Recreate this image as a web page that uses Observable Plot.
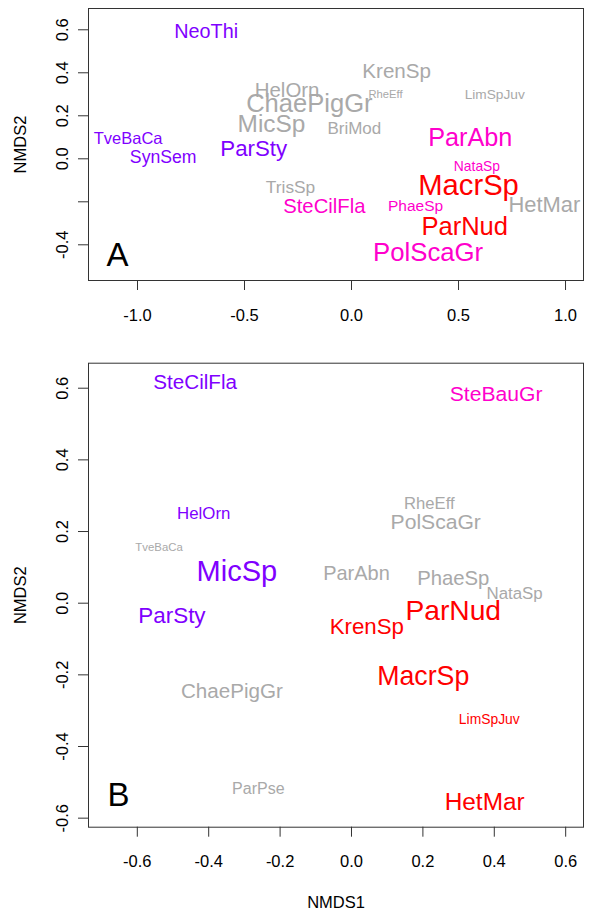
<!DOCTYPE html>
<html>
<head>
<meta charset="utf-8">
<script src="https://cdn.jsdelivr.net/npm/d3@7"></script>
<script src="https://cdn.jsdelivr.net/npm/@observablehq/plot@0.6"></script>
<style>
  html, body { margin: 0; padding: 0; background: #fff; }
  #chart svg { display: block; }
</style>
</head>
<body>
<div id="chart"></div>
<script>
// ---------- data ----------
const groups = ["cluster1", "cluster2", "cluster3", "cluster4"];
const groupColors = ["#8000ff", "#a9a9a9", "#ff00cc", "#ff0000"];

// Panel A
const aSpecies = ["NeoThi","TveBaCa","SynSem","ParSty","HelOrn","ChaePigGr","MicSp","TrisSp","SteCilFla","KrenSp","RheEff","LimSpJuv","BriMod","ParAbn","NataSp","MacrSp","HetMar","PhaeSp","ParNud","PolScaGr"];
const aNMDS1 = [-0.679,-1.044,-0.880,-0.457,-0.301,-0.197,-0.374,-0.285,-0.127,0.211,0.159,0.669,0.013,0.555,0.586,0.547,0.901,0.299,0.529,0.358];
const aNMDS2 = [0.591,0.095,0.009,0.048,0.318,0.255,0.160,-0.132,-0.223,0.408,0.301,0.298,0.139,0.097,-0.037,-0.124,-0.217,-0.220,-0.314,-0.438];
const aGroup = ["cluster1","cluster1","cluster1","cluster1","cluster2","cluster2","cluster2","cluster2","cluster3","cluster2","cluster2","cluster2","cluster2","cluster3","cluster3","cluster4","cluster2","cluster3","cluster4","cluster3"];
const aCex = [1.2,1.0,1.07,1.35,1.24,1.55,1.48,1.05,1.23,1.25,0.68,0.83,1.03,1.53,0.84,1.77,1.33,0.94,1.55,1.56];

// Panel B
const bSpecies = ["SteCilFla","HelOrn","TveBaCa","MicSp","ParSty","SteBauGr","RheEff","PolScaGr","ParAbn","PhaeSp","NataSp","ParNud","KrenSp","MacrSp","LimSpJuv","HetMar","ChaePigGr","ParPse"];
const bNMDS1 = [-0.438,-0.414,-0.539,-0.321,-0.503,0.405,0.218,0.236,0.014,0.285,0.457,0.285,0.043,0.201,0.386,0.373,-0.335,-0.261];
const bNMDS2 = [0.617,0.251,0.155,0.087,-0.034,0.582,0.279,0.227,0.082,0.068,0.027,-0.023,-0.067,-0.204,-0.324,-0.554,-0.245,-0.519];
const bGroup = ["cluster1","cluster1","cluster2","cluster1","cluster1","cluster3","cluster2","cluster2","cluster2","cluster2","cluster2","cluster4","cluster4","cluster4","cluster4","cluster4","cluster2","cluster2"];
const bCex = [1.25,1.02,0.69,1.76,1.36,1.28,1.01,1.28,1.21,1.23,1.02,1.71,1.35,1.62,0.84,1.48,1.25,0.97];

// Ticks
const aXTicks = [-1, -0.5, 0, 0.5, 1];
const aXLabels = ["-1.0", "-0.5", "0.0", "0.5", "1.0"];
const aYTicks = [-0.4, -0.2, 0, 0.2, 0.4, 0.6];
const aYLabels = ["-0.4", "", "0.0", "0.2", "0.4", "0.6"];
const bXTicks = [-0.6, -0.4, -0.2, 0, 0.2, 0.4, 0.6];
const bXLabels = ["-0.6", "-0.4", "-0.2", "0.0", "0.2", "0.4", "0.6"];
const bYTicks = [-0.6, -0.4, -0.2, 0, 0.2, 0.4, 0.6];
const bYLabels = ["-0.6", "-0.4", "-0.2", "0.0", "0.2", "0.4", "0.6"];

// Panel letters (placed in data coordinates, like R's text())
const panelA = [{label: "A", x: -1.093, y: -0.45}];
const panelB = [{label: "B", x: -0.653, y: -0.537}];

// ---------- helpers ----------
const FONT = "Liberation Sans, Arial, Helvetica, sans-serif";
const BASE = 16.5;
const AXIS = "#333";

function rows(names, xs, ys, gs, cs) {
  return names.map((n, i) => ({name: n, x: xs[i], y: ys[i], group: gs[i], cex: cs[i]}));
}

function panel({data, xDomain, yDomain, xTicks, xLabels, yTicks, yLabels, letter, height, marginTop, marginBottom, xTitle}) {
  const xt = xTicks.map((v, i) => ({v, t: xLabels[i]}));
  const yt = yTicks.map((v, i) => ({v, t: yLabels[i]}));
  const marks = [
    Plot.frame({stroke: AXIS, strokeWidth: 1}),
    Plot.axisX({ticks: xTicks, tickSize: 10, tickFormat: () => "", label: null, stroke: AXIS, anchor: "bottom"}),
    Plot.axisY({ticks: yTicks, tickSize: 10, tickFormat: () => "", label: null, stroke: AXIS, anchor: "left"}),
    Plot.text(xt, {x: "v", text: "t", frameAnchor: "bottom", dy: 35, lineAnchor: "middle", fontSize: BASE, fill: "#000"}),
    Plot.text(yt, {y: "v", text: "t", frameAnchor: "left", dx: -26, rotate: -90, textAnchor: "middle", lineAnchor: "middle", fontSize: BASE, fill: "#000"}),
    Plot.text(["NMDS2"], {frameAnchor: "left", dx: -68, rotate: -90, textAnchor: "middle", lineAnchor: "middle", fontSize: BASE, fill: "#000"}),
    Plot.text(letter, {x: "x", y: "y", text: "label", fontSize: BASE * 2, fill: "#000", lineAnchor: "middle"}),
    Plot.text(data, {x: "x", y: "y", text: "name", fill: "group", fontSize: d => d.cex * BASE, lineAnchor: "middle", textAnchor: "middle"})
  ];
  if (xTitle) {
    marks.push(Plot.text([xTitle], {frameAnchor: "bottom", dy: 76, lineAnchor: "middle", fontSize: BASE, fill: "#000"}));
  }
  return Plot.plot({
    width: 591,
    height,
    marginLeft: 88,
    marginRight: 8,
    marginTop,
    marginBottom,
    style: {fontFamily: FONT, background: "#fff", overflow: "visible"},
    x: {domain: xDomain, label: null},
    y: {domain: yDomain, label: null},
    color: {type: "ordinal", domain: groups, range: groupColors, legend: false},
    marks
  });
}

const chart = document.getElementById("chart");

chart.appendChild(panel({
  data: rows(aSpecies, aNMDS1, aNMDS2, aGroup, aCex),
  xDomain: [-1.229, 1.084],
  yDomain: [-0.566, 0.699],
  xTicks: aXTicks, xLabels: aXLabels,
  yTicks: aYTicks, yLabels: aYLabels,
  letter: panelA,
  height: 330, marginTop: 8, marginBottom: 50
}));

chart.appendChild(panel({
  data: rows(bSpecies, bNMDS1, bNMDS2, bGroup, bCex),
  xDomain: [-0.7367, 0.6499],
  yDomain: [-0.6252, 0.6698],
  xTicks: bXTicks, xLabels: bXLabels,
  yTicks: bYTicks, yLabels: bYLabels,
  letter: panelB,
  height: 581, marginTop: 32.7, marginBottom: 84.3,
  xTitle: "NMDS1"
}));
</script>
</body>
</html>
